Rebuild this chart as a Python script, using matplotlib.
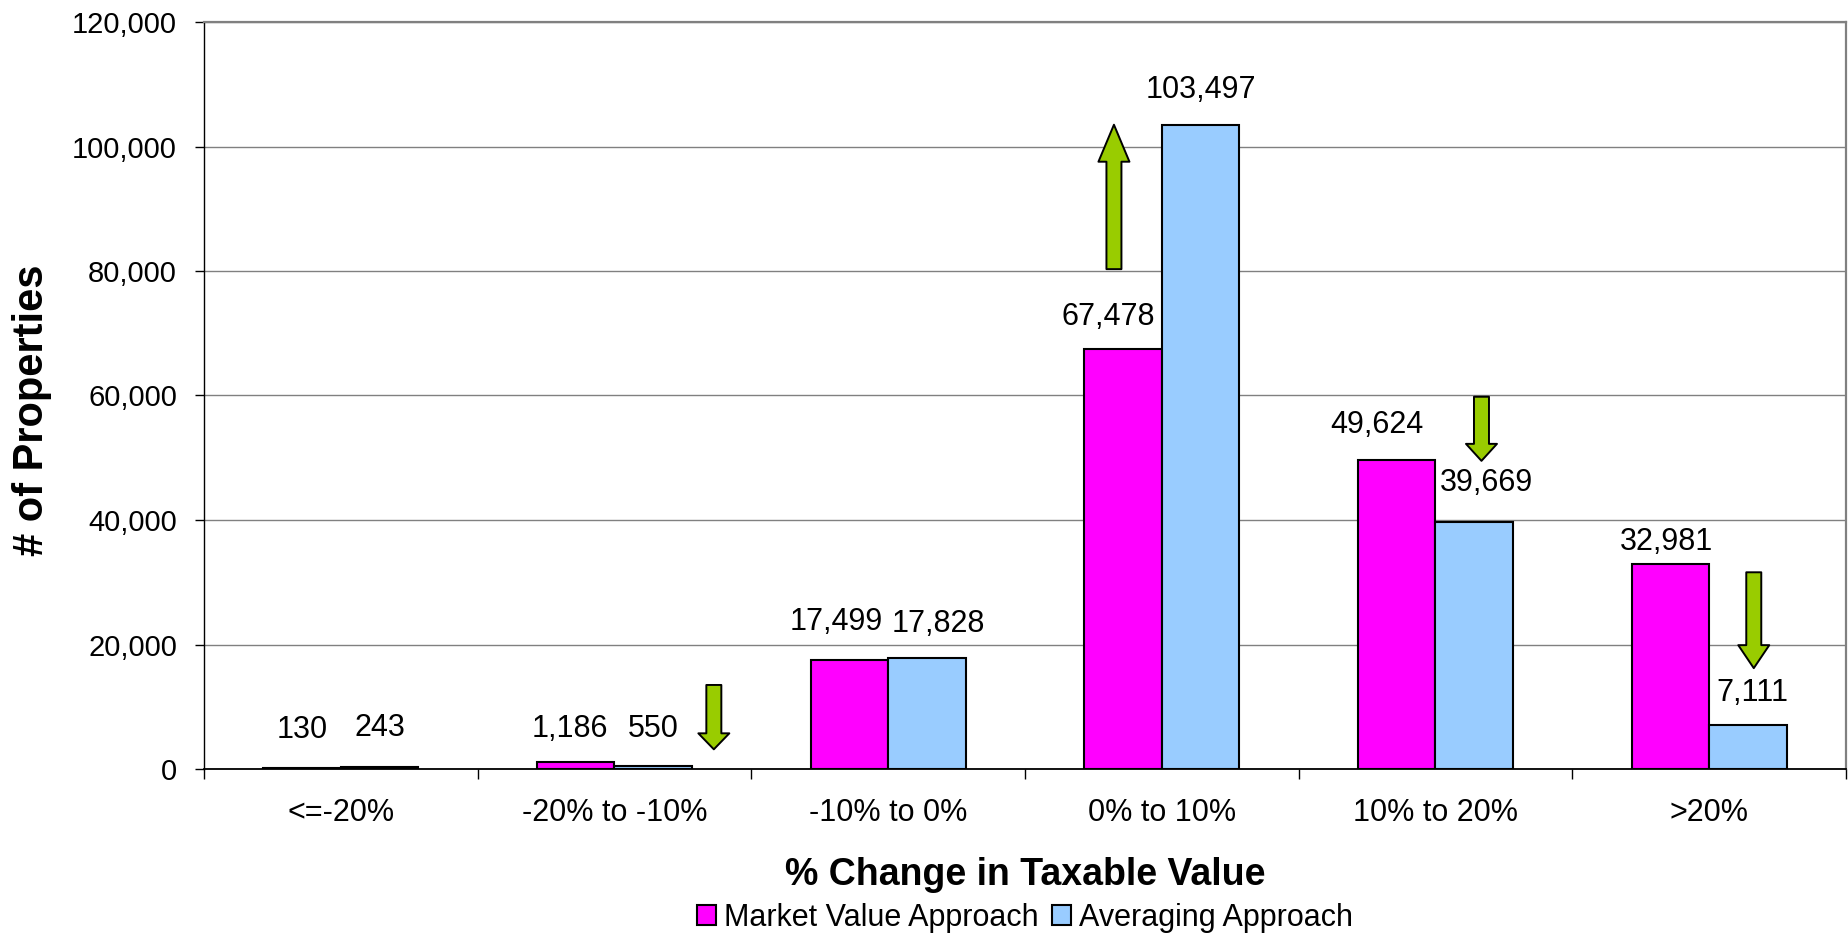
import matplotlib
matplotlib.use("Agg")
import numpy as np
import matplotlib.pyplot as plt
from matplotlib.patches import FancyArrowPatch, ArrowStyle
from matplotlib.ticker import FuncFormatter, FixedLocator

plt.rcParams["font.family"] = ["Liberation Sans", "DejaVu Sans"]

categories = ["<=-20%", "-20% to -10%", "-10% to 0%", "0% to 10%", "10% to 20%", ">20%"]
market_value = [130, 1186, 17499, 67478, 49624, 32981]
averaging = [243, 550, 17828, 103497, 39669, 7111]

# shift arrows: category, offset inside group, tail value, tip value, head length (px)
shift_arrows = [
    (1, 0.363, 13500, 3160, 16),
    (3, -0.175, 80300, 103500, 37),
    (4, 0.168, 59800, 49500, 17),
    (5, 0.163, 31600, 16200, 23),
]

# hand-placed value labels: (dx, dy) in px from the top centre of each bar
mv_nudge = [(0, 38), (-6, 33), (-13, 38), (-15, 32), (-20, 35), (-4, 22)]
av_nudge = [(0, 39), (0, 37), (11, 34), (0, 35), (12, 39), (4, 32)]

PINK = "#FF00FF"
BLUE = "#99CCFF"
GREEN = "#99CC00"
GRID = "#808080"
PX = 0.72  # points per pixel at 100 dpi

W, H = 1849, 934
fig = plt.figure(figsize=(W / 100, H / 100), dpi=100)
ax = fig.add_axes([204 / W, 1 - 769 / H, (1846 - 204) / W, (769 - 22) / H])

x = np.arange(len(categories))
bw = 0.283
b1 = ax.bar(x - bw / 2, market_value, bw, color=PINK, edgecolor="black",
            linewidth=1.5, label="Market Value Approach", zorder=3)
b2 = ax.bar(x + bw / 2, averaging, bw, color=BLUE, edgecolor="black",
            linewidth=1.5, label="Averaging Approach", zorder=3)

for bars, vals, nudge in [(b1, market_value, mv_nudge), (b2, averaging, av_nudge)]:
    for rect, v, (dx, dy) in zip(bars, vals, nudge):
        ax.annotate(f"{v:,}", (rect.get_x() + rect.get_width() / 2, v),
                    xytext=(dx * PX, dy * PX), textcoords="offset points",
                    ha="center", va="center", fontsize=22, zorder=5)

for cat, off, y0, y1, hl in shift_arrows:
    style = ArrowStyle.Simple(head_length=hl * PX, head_width=31 * PX,
                              tail_width=15 * PX)
    ar = FancyArrowPatch((cat + off, y0), (cat + off, y1), arrowstyle=style,
                         mutation_scale=1, shrinkA=0, shrinkB=0,
                         facecolor=GREEN, edgecolor="black", linewidth=1.4,
                         zorder=4)
    ax.add_patch(ar)

ax.set_xlim(-0.5, len(categories) - 0.5)
ax.set_ylim(0, 120000)
ax.set_yticks(np.arange(0, 120001, 20000))
ax.yaxis.set_major_formatter(FuncFormatter(lambda v, p: f"{int(v):,}"))
ax.grid(axis="y", color=GRID, linewidth=1.0)
ax.set_axisbelow(True)

# category boundaries carry the tick marks, labels sit at the centres
ax.xaxis.set_major_locator(FixedLocator(np.arange(-0.5, len(categories), 1.0)))
ax.xaxis.set_minor_locator(FixedLocator(x))
ax.set_xticklabels([], minor=False)
ax.set_xticklabels(categories, minor=True)
ax.tick_params(axis="x", which="major", direction="out", length=7, width=1,
               color="black")
ax.tick_params(axis="x", which="minor", length=0, pad=21, labelsize=22)
ax.tick_params(axis="y", direction="out", length=6.5, width=1, pad=13,
               labelsize=21)

for side in ["top", "right"]:
    ax.spines[side].set_color(GRID)
    ax.spines[side].set_linewidth(1.6)
ax.spines["left"].set_linewidth(1.0)
ax.spines["bottom"].set_linewidth(1.3)

cx = (204 + 1846) / 2 / W
fig.text(cx, 1 - 885 / H, "% Change in Taxable Value", ha="center",
         va="baseline", fontsize=27, fontweight="bold")
fig.text(32 / W, 1 - 410 / H, "# of Properties", rotation=90, ha="center",
         va="center", fontsize=30, fontweight="bold")

fig.legend(handles=[b1, b2], loc="center", bbox_to_anchor=(cx, 1 - 918 / H),
           ncol=2, frameon=False, fontsize=22, handlelength=0.62,
           handleheight=0.65, handletextpad=0.26, columnspacing=0.42,
           borderpad=0, borderaxespad=0)

fig.savefig("out.png", dpi=100)
